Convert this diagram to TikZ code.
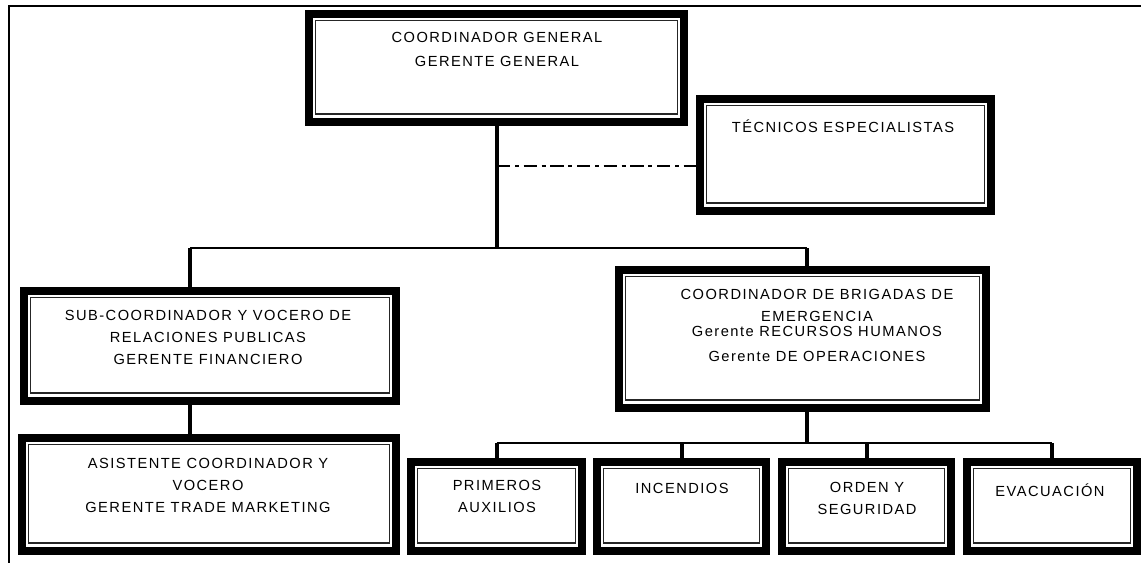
\documentclass[tikz,border=0pt]{standalone}
\usepackage{fontspec}
\setmainfont{Liberation Sans}[LetterSpace=10]
\begin{document}
\begin{tikzpicture}[x=0.75pt,y=-0.75pt,
  obox/.style={draw=black,line width=6pt,fill=white,rectangle,inner sep=0pt,outer sep=0pt},
  ithin/.style={draw=black!85,line width=0.8pt},
  txt/.style={align=center,inner sep=0pt,font=\fontsize{11}{16.5}\selectfont},
  vline/.style={line width=3pt},
  hline/.style={line width=1.6pt},
  dline/.style={line width=2.2pt,dash pattern=on 10pt off 3.5pt on 3pt off 3.5pt},
  frame/.style={line width=1.6pt}]
\useasboundingbox (0,0) rectangle (1141,563);
\newcommand\obx[5]{%
  \node[obox,minimum width={(#4-#2-8)*0.75pt},minimum height={(#5-#3-8)*0.75pt}]
    (#1) at ({(#2+#4)/2},{(#3+#5)/2}) {};
  \draw[ithin] ([shift={(6.5,6.5)}]#1.north west) rectangle ([shift={(-6.5,-8)}]#1.south east);}
% frame
\coordinate (ftl) at (9,6);
\coordinate (ftr) at (1141,6);
\coordinate (fbl) at (9,563);
\draw[frame] (fbl) -- (ftl) -- (ftr);
% junction coordinates
\coordinate (j1) at (497,248);
\coordinate (js) at (190,248);
\coordinate (jc) at (807,248);
\coordinate (j2) at (497,166);
\coordinate (jb) at (807,443);
% connectors (drawn first, boxes cover ends)
\coordinate (cgb) at (497,120);
\draw[vline] (cgb) -- (j1);
\draw[hline] (js) -- (jc);
\draw[dline] (j2) -- (700,166);
% boxes
\obx{cg}{305}{10}{688}{126}
\obx{tec}{696}{95}{995}{215}
\obx{sub}{20}{287}{400}{405}
\obx{asis}{18}{434}{400}{555}
\obx{coord}{615}{266}{990}{412}
\obx{prim}{407}{458}{586}{555}
\obx{inc}{593}{458}{770}{555}
\obx{ord}{778}{458}{955}{555}
\obx{evac}{963}{458}{1141}{555}
% connectors to boxes
\draw[vline] (js) -- (sub.north -| js);
\draw[vline] (jc) -- (coord.north -| jc);
\draw[vline] (sub.south -| js) -- (asis.north -| js);
\draw[vline] (coord.south -| jb) -- (jb);
\draw[hline] (prim.north |- jb) -- (evac.north |- jb);
\draw[vline] (prim.north |- jb) -- (prim.north);
\draw[vline] (inc.north |- jb) -- (inc.north);
\draw[vline] (ord.north |- jb) -- (ord.north);
\draw[vline] (evac.north |- jb) -- (evac.north);
% texts
\node[txt] (cgt) at (497,49) {COORDINADOR GENERAL\\[1.5pt]GERENTE GENERAL};
\node[txt] (tect) at (843,126) {TÉCNICOS ESPECIALISTAS};
\node[txt] (subt) at (208,337) {SUB-COORDINADOR Y VOCERO DE\\RELACIONES PUBLICAS\\GERENTE FINANCIERO};
\node[txt] (asist) at (208,485) {ASISTENTE COORDINADOR Y\\VOCERO\\GERENTE TRADE MARKETING};
\node[txt] (coordt1) at (817,294) {COORDINADOR DE BRIGADAS DE};
\node[txt] (coordt2) at (817,316) {EMERGENCIA};
\node[txt,fill=white,inner ysep=2pt] (coordt3) at (817,344) {Gerente RECURSOS HUMANOS\\[2pt]Gerente DE OPERACIONES};
\node[txt] (primt) at (497,496) {PRIMEROS\\AUXILIOS};
\node[txt] (inct) at (682,488) {INCENDIOS};
\node[txt] (ordt) at (867,498) {ORDEN Y\\SEGURIDAD};
\node[txt] (evact) at (1050,490) {EVACUACIÓN};
\end{tikzpicture}
\end{document}
